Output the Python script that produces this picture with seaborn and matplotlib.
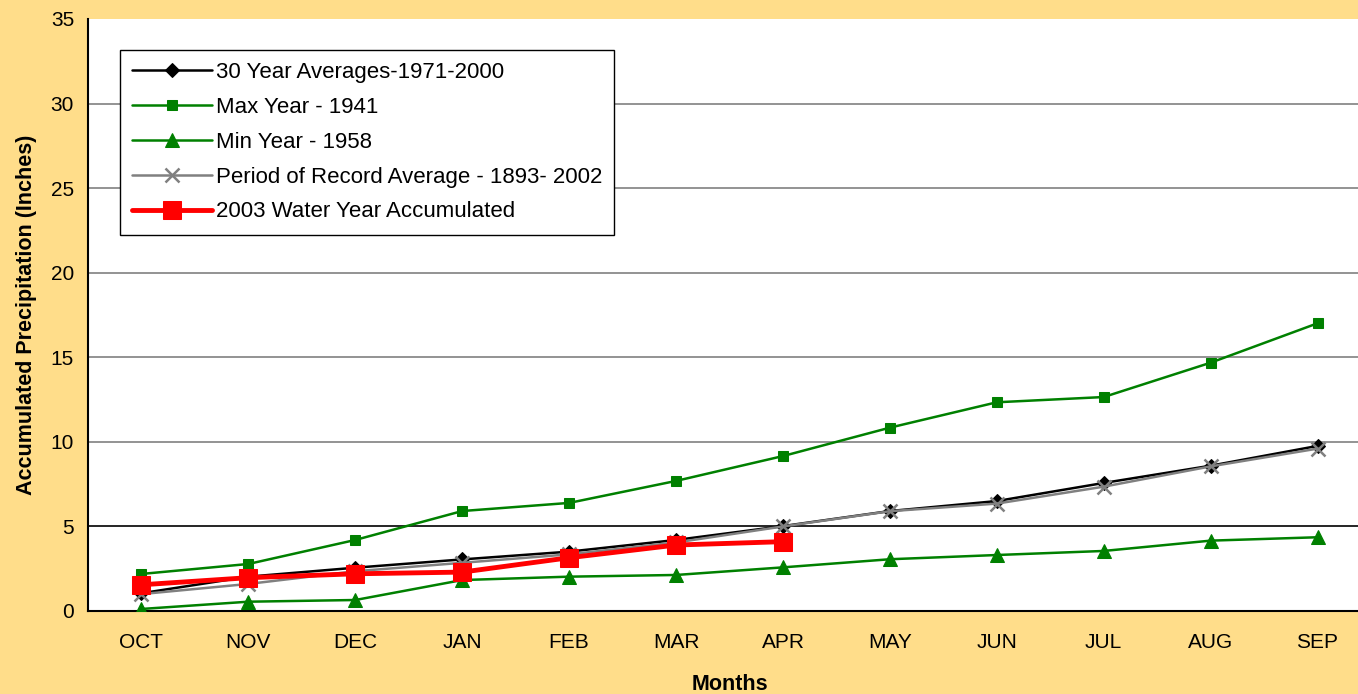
import numpy as np
import pandas as pd
import matplotlib
matplotlib.use("Agg")
import matplotlib.pyplot as plt
import seaborn as sns

sns.set_style("white", {"text.color": "black", "axes.labelcolor": "black",
                        "xtick.color": "black", "ytick.color": "black"})
plt.rcParams['font.family'] = ['Liberation Sans', 'DejaVu Sans']

months = ["OCT", "NOV", "DEC", "JAN", "FEB", "MAR", "APR", "MAY", "JUN", "JUL", "AUG", "SEP"]
avg_30yr = [1.05, 2.03, 2.56, 3.05, 3.51, 4.2, 5.02, 5.91, 6.5, 7.57, 8.59, 9.76]
max_1941 = [2.19, 2.78, 4.2, 5.91, 6.39, 7.69, 9.16, 10.84, 12.34, 12.65, 14.68, 17.01]
min_1958 = [0.12, 0.55, 0.65, 1.83, 2.03, 2.13, 2.58, 3.06, 3.31, 3.55, 4.16, 4.36]
por_avg = [1.0, 1.6, 2.35, 2.85, 3.35, 4.05, 5.0, 5.9, 6.35, 7.35, 8.55, 9.6]
wy_2003 = [1.55, 1.97, 2.2, 2.3, 3.15, 3.9, 4.1]

bg = "#FFDD8A"
fig = plt.figure(figsize=(13.58, 6.94), dpi=100, facecolor=bg)
# plot area runs a little past the right edge, as in the original
ax = fig.add_axes([88 / 1358, 1 - 611 / 694, (1371 - 88) / 1358, (611 - 19) / 694])
ax.set_facecolor("white")

x = np.arange(len(months))
x03 = np.arange(len(wy_2003))

# grid lines first so the data sits on top
for yv in range(5, 35, 5):
    ax.axhline(yv, color="black" if yv == 5 else "#808080", lw=1.2, zorder=0)

sns.lineplot(x=x, y=avg_30yr, ax=ax, color="black", lw=1.8, marker="D", ms=7,
             mec="black", label="30 Year Averages-1971-2000", zorder=3)
sns.lineplot(x=x, y=max_1941, ax=ax, color="#008000", lw=1.8, marker="s", ms=7.5,
             mec="#008000", label="Max Year - 1941", zorder=3)
sns.lineplot(x=x, y=min_1958, ax=ax, color="#008000", lw=1.8, marker="^", ms=9.5,
             mec="#008000", label="Min Year - 1958", zorder=3)
sns.lineplot(x=x, y=por_avg, ax=ax, color="#808080", lw=1.8, marker="x", ms=10, mew=1.8,
             mec="#808080", label="Period of Record Average - 1893- 2002", zorder=4)
sns.lineplot(x=x03, y=wy_2003, ax=ax, color="#FF0000", lw=3.5, marker="s", ms=12.5,
             mec="#FF0000", label="2003 Water Year Accumulated", zorder=5)

ax.set_xlim(-0.5, len(months) - 0.5)
ax.set_ylim(0, 35)
ax.set_yticks(range(0, 40, 5))
ax.set_xticks(x)
ax.set_xticklabels(months)
ax.set_xticks(np.arange(-0.5, len(months), 1), minor=True)
ax.tick_params(axis="x", which="major", length=0, pad=16, labelsize=15, labelcolor="black")
ax.tick_params(axis="x", which="minor", length=6, width=1.2, color="black", direction="out")
ax.tick_params(axis="y", length=6, width=1.2, color="black", direction="out", labelsize=15,
               pad=4, labelcolor="black")
for side in ["left", "bottom"]:
    ax.spines[side].set_color("black")
    ax.spines[side].set_linewidth(1.5)
ax.spines["top"].set_visible(False)
ax.spines["right"].set_visible(False)

ax.set_xlabel("Months", fontsize=15.5, fontweight="bold", color="black")
ax.set_ylabel("Accumulated Precipitation (Inches)", fontsize=15.5, fontweight="bold",
              labelpad=10, color="black")
ax.xaxis.set_label_coords((730 - 88) / 1283, -(674 - 611) / 592)

leg = ax.legend(loc="upper left", bbox_to_anchor=((120 - 88) / 1283, (611 - 50) / 592),
                borderaxespad=0, fancybox=False, framealpha=1, edgecolor="black",
                fontsize=16, handlelength=3.6, handletextpad=0.15, labelspacing=0.62,
                borderpad=0.55, markerscale=1.0, labelcolor="black")
leg.get_frame().set_linewidth(1.0)
leg.set_zorder(10)

fig.savefig("out.png", dpi=100, facecolor=bg)
